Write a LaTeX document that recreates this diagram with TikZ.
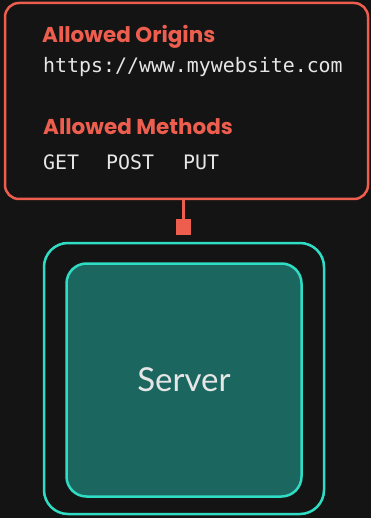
\documentclass[tikz,border=0pt]{standalone}
\usepackage{fontspec}
\setmainfont{Lato}
\setmonofont{DejaVu Sans Mono}
\newfontfamily\headfont{Poppins}
\usetikzlibrary{positioning}

\definecolor{bgdark}{HTML}{141414}
\definecolor{coral}{HTML}{EE5E4E}
\definecolor{aqua}{HTML}{2FDCC4}
\definecolor{tealfill}{HTML}{1C6660}
\definecolor{pale}{HTML}{E6E6E6}

\begin{document}
\begin{tikzpicture}[x=1pt, y=-1pt]
    % background
    \fill[bgdark] (0,0) rectangle (371,518);
    \useasboundingbox (0,0) rectangle (371,518);

    % CORS policy box
    \node[rectangle, draw=coral, line width=2.5pt, rounded corners=14pt, fill=bgdark,
        minimum width=363pt, minimum height=196pt, inner sep=0pt]
        (cors) at (186.5,101) {};
    \node[anchor=base west, text=coral, font=\fontsize{21.5}{24}\headfont\bfseries, inner sep=0pt]
        (origins) at (42,43) {Allowed Origins};
    \node[anchor=base west, text=pale, font=\fontsize{19.9}{22}\selectfont\ttfamily, inner sep=0pt]
        (url) at (43,73) {https://www.mywebsite.com};
    \node[anchor=base west, text=coral, font=\fontsize{21.5}{24}\headfont\bfseries, inner sep=0pt]
        (methods) at (43,135) {Allowed Methods};
    \foreach \m/\x in {GET/43, POST/106, PUT/183} {
        \node[anchor=base west, text=pale, font=\fontsize{19.9}{22}\selectfont\ttfamily, inner sep=0pt]
            (m\m) at (\x,170) {\m};
    }

    % server boxes
    \node[rectangle, draw=aqua, line width=2.5pt, rounded corners=24pt,
        minimum width=280pt, minimum height=271pt, inner sep=0pt]
        (host) at (184,378.5) {};
    \node[rectangle, draw=aqua, line width=2.5pt, rounded corners=20pt, fill=tealfill,
        minimum width=235pt, minimum height=233pt, inner sep=0pt,
        text=pale, font=\fontsize{33}{38}\selectfont]
        (server) at (184,380) {Server};

    % attachment
    \node[rectangle, fill=coral, minimum size=15pt, inner sep=0pt] (plug) at (183,227) {};
    \draw[coral, line width=3pt] (cors.south -| plug) -- (plug.north);
\end{tikzpicture}
\end{document}
